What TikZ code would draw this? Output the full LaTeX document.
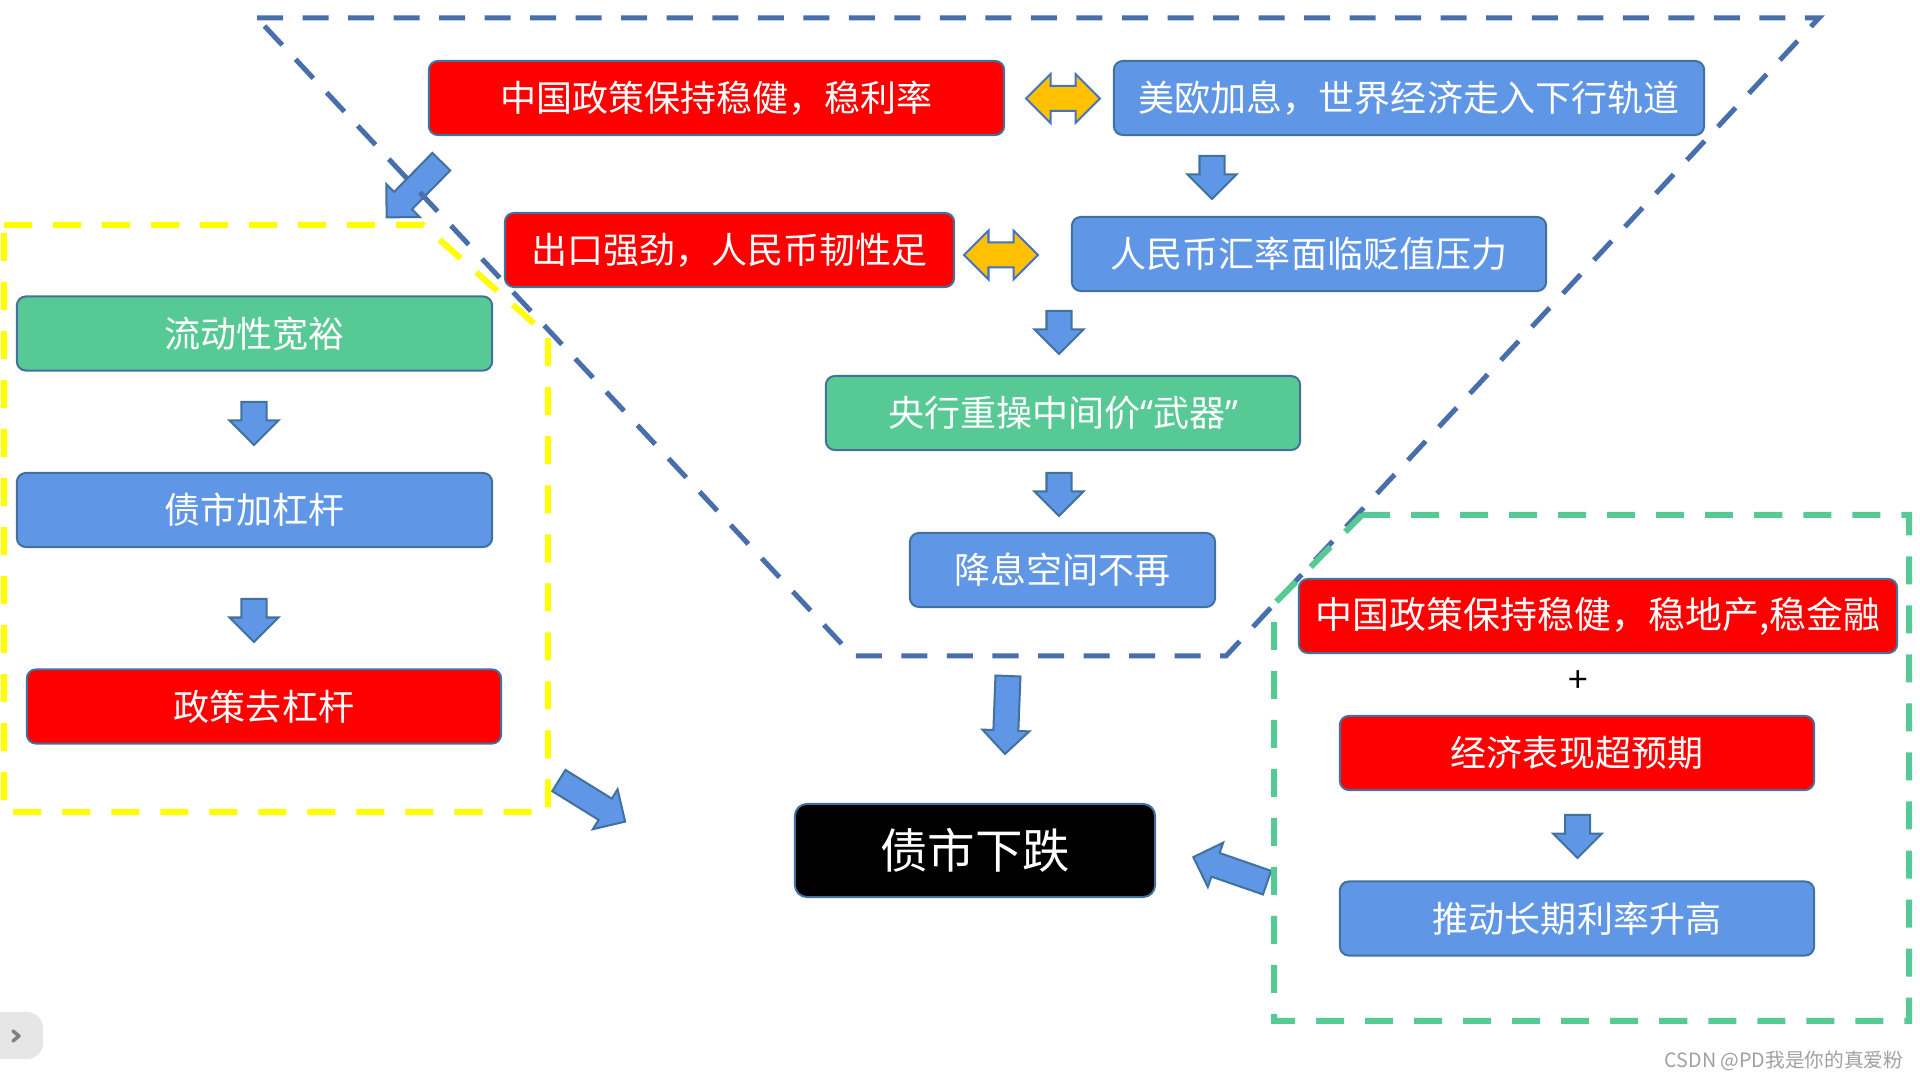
\documentclass[tikz,border=0pt]{standalone}
\usepackage{fontspec}
\newfontfamily\cjk{Noto Sans CJK SC}
\newfontfamily\latinsans{Noto Sans}
\usepackage{tikz}
\usetikzlibrary{shapes.arrows}
\usepackage{xcolor}
\definecolor{boxred}{RGB}{255,0,0}
\definecolor{boxblue}{RGB}{96,150,230}
\definecolor{boxgreen}{RGB}{86,201,148}
\definecolor{boxedge}{RGB}{65,113,156}
\definecolor{funnelblue}{RGB}{72,110,172}
\definecolor{frameyellow}{RGB}{255,255,0}
\definecolor{framegreen}{RGB}{86,201,148}
\definecolor{swapgold}{RGB}{255,192,0}
\definecolor{swapedge}{RGB}{68,114,196}
\definecolor{wmgray}{RGB}{160,160,160}
\definecolor{tabgray}{RGB}{230,230,230}
\definecolor{chevgray}{RGB}{128,128,128}
\newcommand{\Lq}{{\latinsans “}}
\newcommand{\Rq}{{\latinsans ”}}
\tikzset{box/.style={rectangle,rounded corners=0.09cm,draw=boxedge,line width=0.02cm,
  minimum width=4.74cm,minimum height=0.74cm,inner sep=0pt,text=white,
  font=\cjk\fontsize{10.24pt}{12pt}\selectfont}}
\tikzset{redbox/.style={box,fill=boxred},bluebox/.style={box,fill=boxblue},
  greenbox/.style={box,fill=boxgreen}}
\tikzset{dnarrow/.style={single arrow,draw=boxedge,fill=boxblue,line width=0.02cm,
  single arrow head extend=0.12cm,inner xsep=0pt,inner ysep=0.115cm,
  minimum width=0pt,minimum height=0.43cm,anchor=tail}}
\tikzset{bigarrow/.style={dnarrow,single arrow head extend=0.11cm,minimum height=0.78cm}}
\tikzset{swaparrow/.style={double arrow,draw=swapedge,fill=swapgold,line width=0.02cm,
  double arrow head extend=0.12cm,inner xsep=0pt,inner ysep=0.115cm,
  minimum width=0pt,minimum height=0.74cm}}
\tikzset{funnel/.style={draw=funnelblue,line width=0.05cm,dash pattern=on 0.26cm off 0.195cm}}
\tikzset{yellowframe/.style={draw=frameyellow,line width=0.06cm,dash pattern=on 0.28cm off 0.21cm}}
\tikzset{greenframe/.style={draw=framegreen,line width=0.06cm,dash pattern=on 0.28cm off 0.21cm}}

\begin{document}
\begin{tikzpicture}[x=0.01cm,y=-0.01cm]
\useasboundingbox (0,0) rectangle (1920,1080);
% funnel boxes
\node (cnrate) [redbox,minimum width=5.75cm] at (716.5,98) {中国政策保持稳健，稳利率};
\node (hike) [bluebox,minimum width=5.9cm] at (1409,98) {美欧加息，世界经济走入下行轨道};
\node (export) [redbox,minimum width=4.49cm] at (729.5,250) {出口强劲，人民币韧性足};
\node (fxdown) [bluebox] at (1309,254) {人民币汇率面临贬值压力};
\node (fixing) [greenbox] at (1063,413) {央行重操中间价\Lq 武器\Rq};
\node (nocut) [bluebox,minimum width=3.05cm] at (1062.5,570) {降息空间不再};
%
\node (swap1) [swaparrow] at (1063,98.5) {};
\node (swap2) [swaparrow] at (1001,255) {};
\node (arr1) [dnarrow,rotate=-90] at (1212,155) {};
\node (arr2) [dnarrow,rotate=-90] at (1059,310) {};
\node (arr3) [dnarrow,rotate=-90] at (1059,472) {};
% left block
\node (liquid) [greenbox,minimum width=4.75cm] at (254.5,333.5) {流动性宽裕};
\node (lever) [bluebox,minimum width=4.75cm] at (254.5,510) {债市加杠杆};
\node (delever) [redbox] at (264,706.5) {政策去杠杆};
\node (arr4) [dnarrow,rotate=-90] at (254,401) {};
\node (arr5) [dnarrow,rotate=-90] at (254,598) {};
% right block
\node (cnprop) [redbox,minimum width=5.98cm,font=\cjk\fontsize{10.5pt}{13pt}\selectfont] at (1598,616) {中国政策保持稳健，稳地产,稳金融};
\node (plus) [font=\cjk\fontsize{10pt}{12pt}\selectfont] at (1578,682) {+};
\node (beat) [redbox] at (1577,753) {经济表现超预期};
\node (longrate) [bluebox] at (1577,918.5) {推动长期利率升高};
\node (arr6) [dnarrow,rotate=-90] at (1577.5,814) {};
% result
\node (fall) [box,fill=black,minimum width=3.6cm,minimum height=0.93cm,rounded corners=0.12cm,
  font=\cjk\fontsize{13.5pt}{16pt}\selectfont] at (975,850.5) {债市下跌};
\node (big1) [bigarrow,rotate=225.5] at (442,161) {};
\node (big2) [bigarrow,rotate=-31.8] at (558,780) {};
\node (big3) [bigarrow,rotate=-92.2] at (1008,675) {};
\node (big4) [bigarrow,rotate=160.9] at (1268,883) {};
% dashed frames
\draw[funnel] (257,18) -- (1819,18) -- (1226,656) -- (853,656) -- cycle;
\draw[yellowframe] (4,225) -- (423,225) -- (548,336) -- (548,812) -- (4,812) -- cycle;
\draw[greenframe] (1362,515) -- (1909,515) -- (1909,1021) -- (1274,1021) -- (1274,604) -- cycle;
% page bits
\fill[tabgray,rounded corners=0.16cm] (-20,1012) rectangle (43,1059);
\draw[chevgray,line width=0.035cm,line cap=round,line join=round] (13,1031) -- (19,1036) -- (13,1041);
\node (wmark) [anchor=east,inner sep=0pt,text=wmgray,font=\cjk\fontsize{5.6pt}{6pt}\selectfont] at (1904,1061) {CSDN @PD我是你的真爱粉};
\end{tikzpicture}
\end{document}
